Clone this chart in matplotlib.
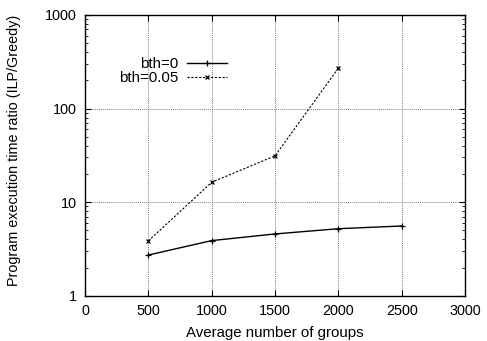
import matplotlib
matplotlib.use("Agg")
import matplotlib.pyplot as plt
from matplotlib.ticker import LogLocator, NullFormatter

plt.rcParams['font.family'] = ['Liberation Sans', 'DejaVu Sans']

groups = [500, 1000, 1500, 2000, 2500]
bth0 = [2.72, 3.88, 4.57, 5.2, 5.56]
groups_b = [500, 1000, 1500, 2000]
bth005 = [3.85, 16.3, 31.2, 270]
xticks = [0, 500, 1000, 1500, 2000, 2500, 3000]
yticks = [1, 10, 100, 1000]
ytick_labels = ['1', '10', '100', '1000']

W, H = 487, 341
fig = plt.figure(figsize=(W/100, H/100), dpi=100)
ax = fig.add_axes([85/W, 1-295.7/H, 380/W, (295.7-15)/H])

ax.plot(groups, bth0, '-', color='black', lw=1.0, marker='+', ms=4.5, mew=0.9, label='bth=0')
ax.plot(groups_b, bth005, '--', color='black', lw=0.8, dashes=(2, 1.5), marker='x', ms=3.5, mew=0.9, label='bth=0.05')

ax.set_yscale('log')
ax.set_xlim(0, 3000)
ax.set_ylim(1, 1000)
ax.set_xticks(xticks)
ax.set_xticklabels([str(v) for v in xticks])
ax.set_yticks(yticks)
ax.set_yticklabels(ytick_labels)
ax.yaxis.set_minor_locator(LogLocator(base=10, subs=range(2, 10)))
ax.yaxis.set_minor_formatter(NullFormatter())

ax.grid(True, which='major', color='#808080', linestyle=(0, (1, 1)), lw=0.7)
ax.tick_params(which='both', direction='in', top=True, right=True, labelsize=10.4, colors='black')
ax.tick_params(which='major', length=4, width=0.8, pad=6)
ax.tick_params(which='minor', length=2, width=0.6)
for s in ax.spines.values():
    s.set_linewidth(1.0)

fig.text(275/W, 1-336.5/H, 'Average number of groups', fontsize=10.8, ha='center', va='baseline')
fig.text(18.5/W, 1-150.5/H, 'Program execution time ratio (ILP/Greedy)', fontsize=10.4,
         ha='center', va='baseline', rotation=90, rotation_mode='anchor')

leg = ax.legend(loc='upper right', bbox_to_anchor=(0.3737, 0.849), frameon=False, markerfirst=False,
                fontsize=10.8, handlelength=2.67, handletextpad=0.6, labelspacing=0.0,
                borderaxespad=0, borderpad=0)
for t in leg.get_texts():
    t.set_ha('right')
leg._legend_box.align = 'right'

fig.savefig('out.png', dpi=100)
